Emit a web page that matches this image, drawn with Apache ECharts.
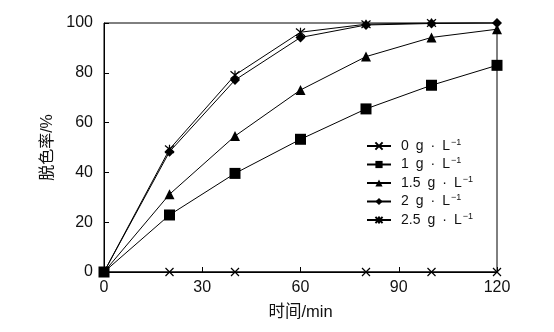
<!DOCTYPE html>
<html><head><meta charset="utf-8">
<script src="https://cdn.jsdelivr.net/npm/echarts@6/dist/echarts.min.js"></script>
<style>html,body{margin:0;padding:0;background:#fff}#c{width:554px;height:332px}</style>
</head><body><div id="c"></div>
<script>
const times = [0, 20, 40, 60, 80, 100, 120];
const times0 = [0, 20, 40, 80, 100, 120];
const seriesNames = ['0\u2002g\u2002·\u2002L{s|−1}', '1\u2002g\u2002·\u2002L{s|−1}', '1.5\u2002g\u2002·\u2002L{s|−1}', '2\u2002g\u2002·\u2002L{s|−1}', '2.5\u2002g\u2002·\u2002L{s|−1}'];
const legendKeys = ['0g', '1g', '1.5g', '2g', '2.5g'];
const v0 = [0, 0, 0, 0, 0, 0];
const v1 = [0, 22.9, 39.6, 53.3, 65.5, 75.0, 83.0];
const v15 = [0, 31.2, 54.6, 73.1, 86.5, 94.2, 97.5];
const v2 = [0, 48.3, 77.1, 94.2, 99.2, 99.8, 100];
const v25 = [0, 49.3, 79.1, 96.3, 99.5, 100, 100.3];
const yTicks = [0, 20, 40, 60, 80, 100];
const xTicks = [0, 30, 60, 90, 120];

const crossPath = 'path://M0,0L10,10M10,0L0,10';
const starPath = 'path://M0,0L10,10M10,0L0,10M5,-1L5,11';
const allValues = [v0, v1, v15, v2, v25];
const allTimes = [times0, times, times, times, times];
const symbols = [crossPath, 'rect', 'triangle', 'diamond', starPath];
const sizes = [8, 11, 10, 10, 9];

const series = allValues.map((vals, i) => ({
  name: legendKeys[i],
  type: 'line',
  data: allTimes[i].map((t, j) => [t, vals[j]]),
  symbol: symbols[i],
  symbolSize: sizes[i],
  lineStyle: { color: '#000', width: 1 },
  itemStyle: { color: '#000', borderColor: '#000', borderWidth: (i === 0 || i === 4) ? 1.2 : 0 },
  emphasis: { disabled: true },
  animation: false,
  z: 3
}));

const labelMap = {};
legendKeys.forEach((k, i) => labelMap[k] = '{p|}' + seriesNames[i]);

const chart = echarts.init(document.getElementById('c'), null, { renderer: 'canvas' });
chart.setOption({
  animation: false,
  backgroundColor: '#fff',
  grid: { left: 104, right: 57, top: 23, bottom: 60, show: true, borderColor: '#000', borderWidth: 1, backgroundColor: 'transparent' },
  xAxis: {
    type: 'value', min: 0, max: 120, interval: 30,
    name: '时间/min', nameLocation: 'middle', nameGap: 32,
    nameTextStyle: { fontFamily: 'Liberation Sans, Noto Sans CJK SC', fontSize: 16.5, color: '#111' },
    axisLine: { show: true, lineStyle: { color: '#000', width: 1 } },
    axisTick: { show: true, inside: true, length: 5, lineStyle: { color: '#000' } },
    axisLabel: { fontFamily: 'Liberation Sans', fontSize: 16, color: '#111', margin: 8,
      formatter: v => xTicks.includes(v) ? String(v) : '' },
    splitLine: { show: false }
  },
  yAxis: {
    type: 'value', min: 0, max: 100, interval: 20,
    name: '脱色率/%', nameLocation: 'middle', nameGap: 42, nameRotate: 90,
    nameTextStyle: { fontFamily: 'Liberation Sans, Noto Sans CJK SC', fontSize: 16, color: '#111' },
    axisLine: { show: true, lineStyle: { color: '#000', width: 1 } },
    axisTick: { show: true, inside: true, length: 5, lineStyle: { color: '#000' } },
    axisLabel: { fontFamily: 'Liberation Sans', fontSize: 16, color: '#111', margin: 11,
      formatter: v => yTicks.includes(v) ? String(v) : '' },
    splitLine: { show: false }
  },
  legend: {
    orient: 'vertical', left: 361, top: 133,
    itemWidth: 24, itemHeight: 9, itemGap: 3.5,
    data: legendKeys,
    formatter: n => labelMap[n],
    textStyle: { fontFamily: 'Liberation Sans', fontSize: 14, color: '#111',
      rich: {
        p: { width: 5 },
        s: { fontSize: 9, verticalAlign: 'top', padding: [0, 0, 7, 1], fontFamily: 'Liberation Sans', color: '#111' }
      } }
  },
  series: series
});
</script></body></html>
